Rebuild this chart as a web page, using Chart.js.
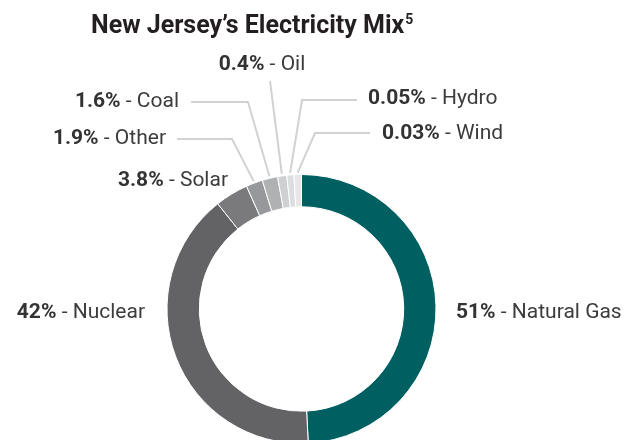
<!DOCTYPE html>
<html>
<head>
<meta charset="utf-8">
<script src="https://cdn.jsdelivr.net/npm/chart.js@4"></script>
<style>
  html, body { margin: 0; padding: 0; background: #fff; overflow: hidden; }
  #wrap { width: 636px; height: 450px; position: relative; }
</style>
</head>
<body>
<div id="wrap"><canvas id="mixChart"></canvas></div>
<script>
    // Chart values
    const categories = ['Natural Gas', 'Nuclear', 'Solar', 'Other', 'Coal', 'Oil', 'Hydro', 'Wind'];
    const shareLabels = ['51%', '42%', '3.8%', '1.9%', '1.6%', '0.4%', '0.05%', '0.03%'];
    // slice sizes as drawn (small sources are enlarged in the picture)
    const arcShares = [49.2, 40.1, 4.0, 2.0, 1.85, 1.1, 0.85, 0.9];
    const sliceColors = ['#005f61', '#636365', '#7a7a7d', '#97989b', '#b0b1b3', '#cfd0d2', '#dcdddf', '#e6e7e8'];

    // Where each label sits; elbow = where the leader line bends (null = no line)
    const labelLayout = [
        { x: 456, y: 313, align: 'left', elbow: null },
        { x: 145, y: 313, align: 'right', elbow: null },
        { x: 228, y: 181, align: 'right', elbow: null },
        { x: 166, y: 139, align: 'right', lineStart: 177, elbow: [232, 139] },
        { x: 179, y: 102, align: 'right', lineStart: 191, elbow: [248, 102] },
        { x: 262, y: 65, align: 'center', elbow: [270, 81] },
        { x: 368, y: 99, align: 'left', lineStart: 357, elbow: [302, 100] },
        { x: 382, y: 134, align: 'left', lineStart: 370, elbow: [315, 133] }
    ];

    const FONT = 'Roboto, "Liberation Sans", sans-serif';

    // Draws title, labels and leader lines
    const labelPlugin = {
        id: 'mixLabels',
        afterDatasetsDraw(chart) {
            const ctx = chart.ctx;
            const arcs = chart.getDatasetMeta(0).data;
            ctx.save();

            // title
            ctx.fillStyle = '#231f20';
            ctx.textBaseline = 'alphabetic';
            ctx.textAlign = 'left';
            ctx.font = 'bold 25px ' + FONT;
            const title = 'New Jersey\u2019s Electricity Mix';
            ctx.fillText(title, 91, 33);
            const tw = ctx.measureText(title).width;
            ctx.font = 'bold 14px ' + FONT;
            ctx.fillText('5', 91 + tw + 1, 24);

            // leader lines
            ctx.strokeStyle = '#d1d2d4';
            ctx.lineWidth = 2;
            labelLayout.forEach((lay, i) => {
                if (!lay.elbow) return;
                const a = arcs[i].getProps(['x', 'y', 'startAngle', 'endAngle', 'outerRadius'], true);
                const mid = (a.startAngle + a.endAngle) / 2;
                const ex = a.x + Math.cos(mid) * (a.outerRadius + 2);
                const ey = a.y + Math.sin(mid) * (a.outerRadius + 2);
                ctx.beginPath();
                if (lay.lineStart !== undefined) {
                    ctx.moveTo(lay.lineStart, lay.elbow[1]);
                    ctx.lineTo(lay.elbow[0], lay.elbow[1]);
                } else {
                    ctx.moveTo(lay.elbow[0], lay.elbow[1]);
                }
                ctx.lineTo(ex, ey);
                ctx.stroke();
            });

            // labels: bold percent + regular name
            ctx.textBaseline = 'middle';
            ctx.textAlign = 'left';
            labelLayout.forEach((lay, i) => {
                const pct = shareLabels[i];
                const rest = ' - ' + categories[i];
                ctx.font = 'bold 21px ' + FONT;
                const w1 = ctx.measureText(pct).width;
                ctx.font = '21px ' + FONT;
                const w2 = ctx.measureText(rest).width;
                let x0 = lay.x;
                if (lay.align === 'right') x0 = lay.x - w1 - w2;
                if (lay.align === 'center') x0 = lay.x - (w1 + w2) / 2;
                ctx.font = 'bold 21px ' + FONT;
                ctx.fillStyle = '#333333';
                ctx.fillText(pct, x0, lay.y);
                ctx.font = '21px ' + FONT;
                ctx.fillStyle = '#3c3c3c';
                ctx.fillText(rest, x0 + w1, lay.y);
            });
            ctx.restore();
        }
    };

    const mixCanvas = document.getElementById('mixChart').getContext('2d');
    const mixChart = new Chart(mixCanvas, {
        type: 'doughnut',
        data: {
            labels: categories,
            datasets: [{
                data: arcShares,
                backgroundColor: sliceColors,
                borderColor: '#ffffff',
                borderWidth: 1,
                hoverOffset: 0
            }]
        },
        options: {
            responsive: true,
            maintainAspectRatio: false,
            animation: false,
            cutout: '76%',
            layout: { padding: { top: 174, bottom: 6, left: 166, right: 199 } },
            plugins: {
                legend: { display: false },
                tooltip: { enabled: false },
                title: { display: false }
            },
            events: []
        },
        plugins: [labelPlugin]
    });
</script>
</body>
</html>
